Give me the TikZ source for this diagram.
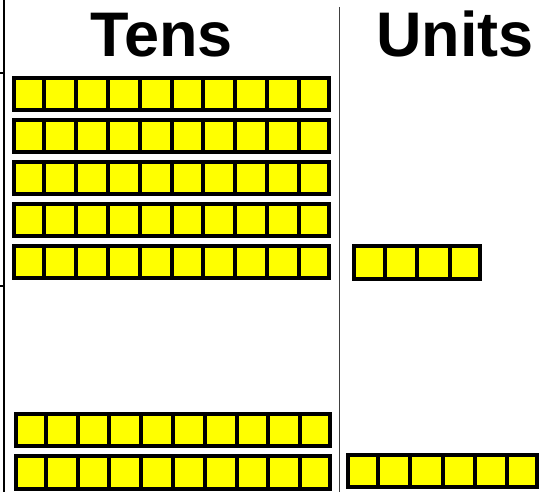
\documentclass[tikz,border=0pt]{standalone}
\usepackage{fontspec}
\setmainfont{Liberation Sans}
\definecolor{celly}{RGB}{255,255,0}
\tikzset{
  rule/.style={line width=1.5pt, black},
  midrule/.style={line width=1.5pt, black!75},
  title/.style={font=\fontsize{63}{63}\selectfont\bfseries, inner sep=0pt, anchor=base},
  barbox/.style={line width=4pt, fill=celly, draw=black},
  divider/.style={line width=4pt, black}
}
% \bar{x0}{ytop}{x1}{ybottom}{cells}  (pixel coords, y downward)
\newcommand{\cellbar}[5]{%
  \draw[barbox] (#1+2,492-#2-2) rectangle (#3-2,492-#4+2);
  \pgfmathsetmacro{\pitch}{(#3-#1)/#5}
  \pgfmathtruncatemacro{\last}{#5-1}
  \foreach \k in {1,...,\last}{
    \draw[divider] (#1+\k*\pitch,492-#2-2) -- (#1+\k*\pitch,492-#4+2);
  }
}
\begin{document}
\begin{tikzpicture}[x=1pt,y=1pt]
\useasboundingbox (0,0) rectangle (543,492);
\fill[white] (0,0) rectangle (543,492);
% rules
\coordinate (lt) at (3.8,492);
\coordinate (lb) at (3.8,0);
\draw[rule] (lt) -- (lb);
\coordinate (t1a) at (0,492-73);
\coordinate (t1b) at (4,492-73);
\draw[rule] (t1a) -- (t1b);
\coordinate (t2a) at (0,492-286);
\coordinate (t2b) at (4,492-286);
\draw[rule] (t2a) -- (t2b);
\coordinate (mt) at (339.5,492-7);
\coordinate (mb) at (339.5,0);
\draw[midrule] (mt) -- (mb);
% titles
\node[title] (tens) at (161.5,492-57) {Tens};
\node[title] (units) at (455,492-57) {Units};
% tens bars
\cellbar{12}{76}{331}{112}{10}
\cellbar{12}{118}{331}{154}{10}
\cellbar{12}{160}{331}{196}{10}
\cellbar{12}{202}{331}{238}{10}
\cellbar{12}{244}{331}{280}{10}
\cellbar{14}{412}{332}{448}{10}
\cellbar{14}{454}{332}{491}{10}
% units bars
\cellbar{352}{244}{482}{281}{4}
\cellbar{346}{453}{539}{489}{6}
\end{tikzpicture}
\end{document}
